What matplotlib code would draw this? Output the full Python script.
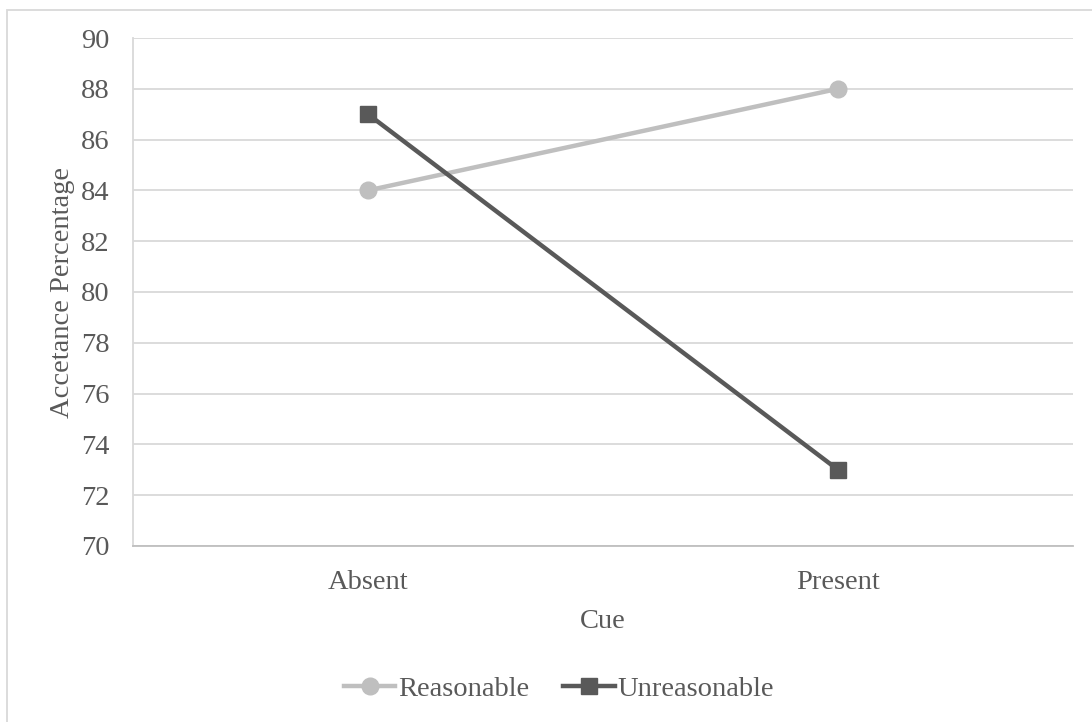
import matplotlib.pyplot as plt
from matplotlib.patches import Rectangle

plt.rcParams["font.family"] = ["Liberation Serif", "DejaVu Serif"]

cues = ["Absent", "Present"]
reasonable = [84, 88]
unreasonable = [87, 73]

text_col = "#595959"
grid_col = "#D9D9D9"
fs = 20.5

fig = plt.figure(figsize=(10.92, 7.22), dpi=100)
ax = fig.add_axes([133 / 1092, 1 - 546 / 722, 940 / 1092, 508 / 722])

x = range(len(cues))
ax.plot(x, reasonable, color="#BFBFBF", lw=3.2, marker="o", ms=12,
        label="Reasonable", zorder=3)
ax.plot(x, unreasonable, color="#595959", lw=3.2, marker="s", ms=11.5,
        label="Unreasonable", zorder=3)

ax.set_xlim(-0.5, 1.5)
ax.set_ylim(70, 90)
ax.set_yticks(range(70, 91, 2))
ax.set_xticks(list(x))
ax.set_xticklabels(cues)
ax.grid(axis="y", color=grid_col, lw=1.3)
ax.set_axisbelow(True)

for side in ["top", "right"]:
    ax.spines[side].set_visible(False)
ax.spines["left"].set_color(grid_col)
ax.spines["left"].set_linewidth(1.3)
ax.spines["bottom"].set_color("#BFBFBF")
ax.spines["bottom"].set_linewidth(1.3)
ax.tick_params(length=0, labelsize=fs, colors=text_col)
ax.tick_params(axis="x", pad=17)
ax.tick_params(axis="y", pad=17)

ax.set_xlabel("Cue", fontsize=fs, color=text_col, labelpad=10)
ax.set_ylabel("Accetance Percentage", fontsize=fs, color=text_col, labelpad=4)

fig.legend(loc="center", bbox_to_anchor=(559 / 1092, 1 - 689 / 722), ncol=2,
           frameon=False, fontsize=fs, labelcolor=text_col,
           handlelength=1.8, handletextpad=0.1, columnspacing=1.2)

# chart frame, open on the right and bottom
fig.patches.append(Rectangle((7 / 1092, -0.1), 1.2, 1.1 - 10 / 722,
                             transform=fig.transFigure, fill=False,
                             edgecolor=grid_col, lw=1.3))

fig.savefig("out.png", dpi=100)
